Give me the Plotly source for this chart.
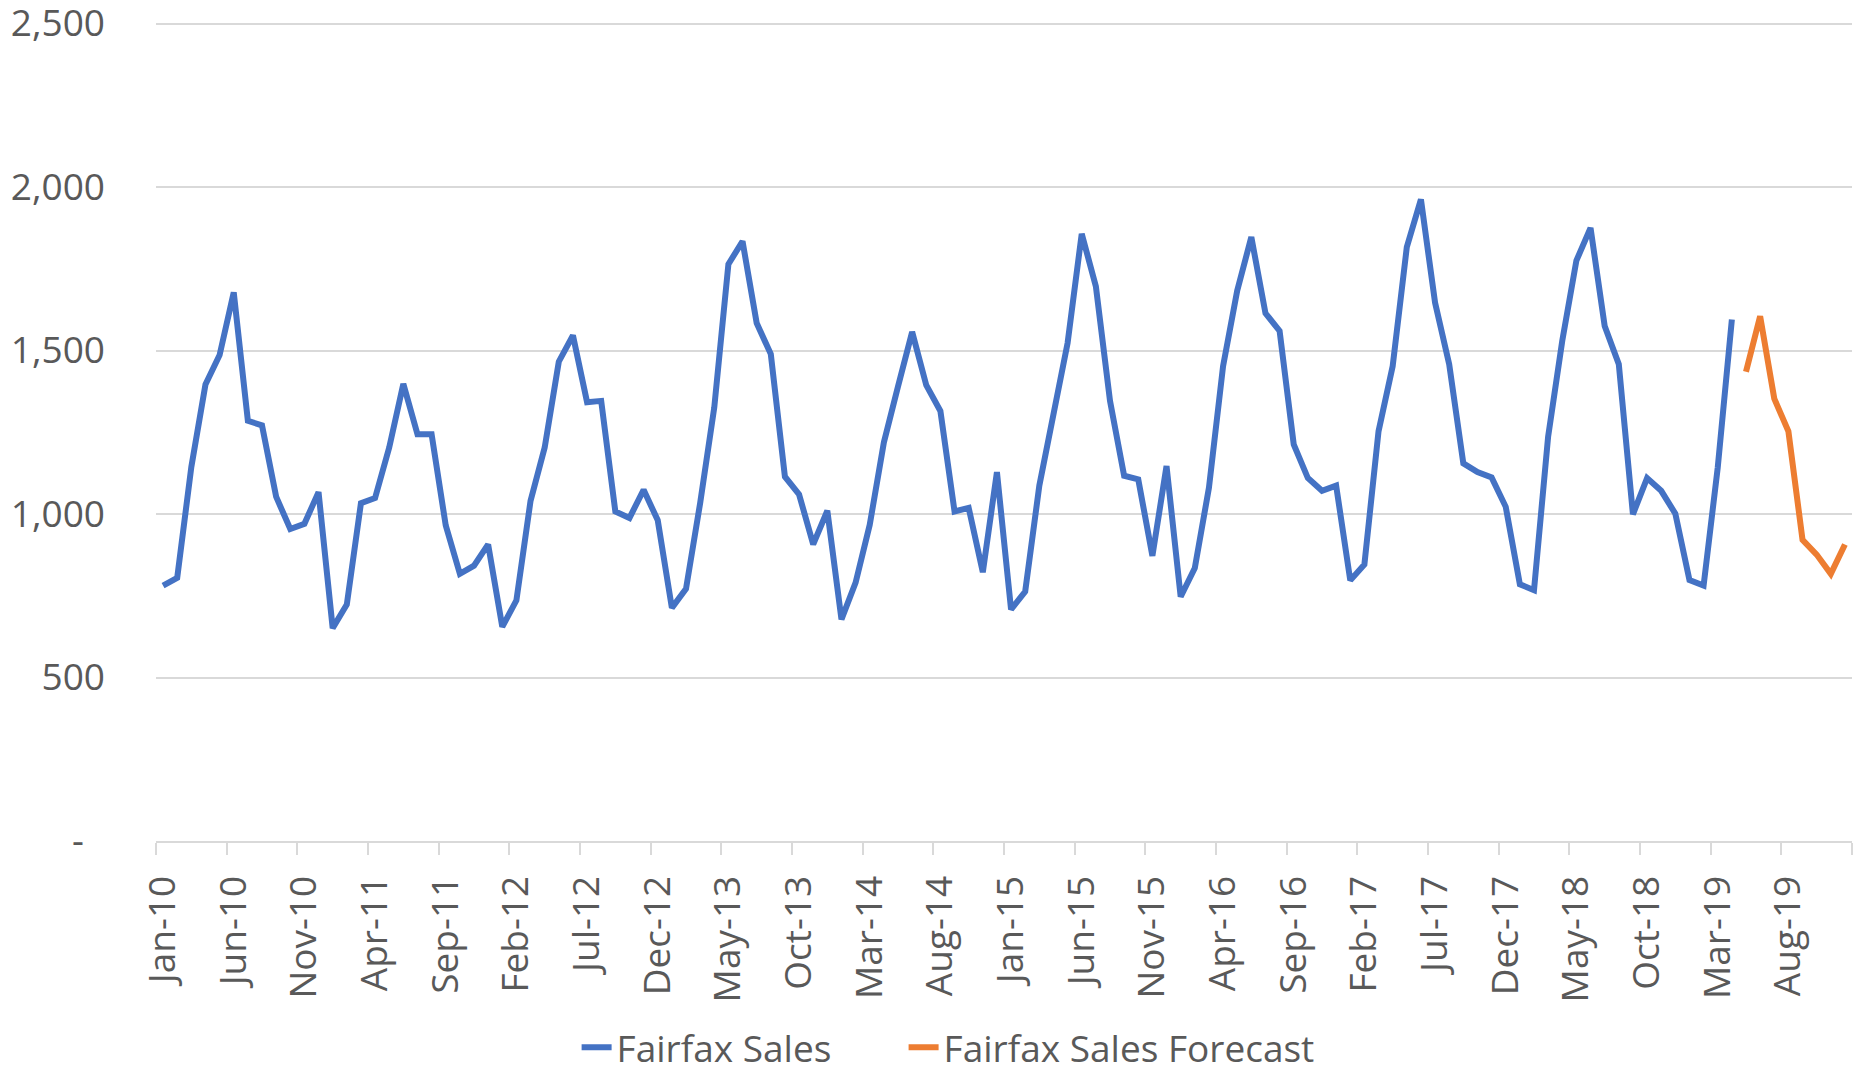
import plotly.graph_objects as go

# Categories: monthly labels Jan-10 .. Dec-19
MONTH_NAMES = ["Jan", "Feb", "Mar", "Apr", "May", "Jun", "Jul", "Aug", "Sep", "Oct", "Nov", "Dec"]
YEARS = ["10", "11", "12", "13", "14", "15", "16", "17", "18", "19"]
months = [f"{m}-{y}" for y in YEARS for m in MONTH_NAMES]

# Fairfax Sales (Jan-10 .. Apr-19)
sales = [
    781, 805, 1144, 1396, 1486, 1678, 1285, 1271, 1053, 954, 970, 1067,       # 2010
    651, 723, 1033, 1049, 1203, 1398, 1244, 1244, 965, 817, 842, 907,         # 2011
    655, 736, 1040, 1203, 1466, 1546, 1342, 1346, 1008, 988, 1074, 981,       # 2012
    713, 771, 1033, 1326, 1764, 1834, 1584, 1489, 1114, 1060, 907, 1010,      # 2013
    678, 790, 967, 1219, 1390, 1557, 1394, 1315, 1008, 1019, 822, 1128,       # 2014
    708, 763, 1087, 1312, 1523, 1857, 1696, 1346, 1117, 1106, 872, 1147,      # 2015
    747, 835, 1080, 1452, 1683, 1847, 1614, 1560, 1213, 1110, 1071, 1087,     # 2016
    797, 846, 1253, 1452, 1816, 1962, 1646, 1458, 1155, 1128, 1112, 1022,     # 2017
    785, 767, 1237, 1530, 1775, 1875, 1575, 1458, 999, 1110, 1071, 1001,      # 2018
    798, 781, 1142, 1595,                                                     # 2019 Jan-Apr
]
# Fairfax Sales Forecast (May-19 .. Dec-19)
forecast = [1435, 1605, 1353, 1253, 921, 876, 817, 907]

sales_x = months[:len(sales)]
forecast_x = months[len(sales):len(sales) + len(forecast)]

y_ticks = [0, 500, 1000, 1500, 2000, 2500]
y_ticktext = ["-\u2007", "500", "1,000", "1,500", "2,000", "2,500"]

FONT = "Open Sans"
TXT = "#595959"
GRID = "#D9D9D9"

fig = go.Figure()
fig.add_trace(go.Scatter(x=sales_x, y=sales, mode="lines",
                         name="Fairfax Sales" + "\u00a0" * 7,
                         line=dict(color="#4472C4", width=6)))
fig.add_trace(go.Scatter(x=forecast_x, y=forecast, mode="lines", name="Fairfax Sales Forecast",
                         line=dict(color="#ED7D31", width=6)))

fig.update_layout(
    width=1854, height=1066,
    margin=dict(l=148, r=10, t=9, b=233, autoexpand=False),
    paper_bgcolor="white", plot_bgcolor="white",
    font=dict(family=FONT, size=37, color=TXT),
    showlegend=True,
    legend=dict(orientation="h", x=0.248, xanchor="left", y=-0.251, yanchor="middle",
                font=dict(family=FONT, size=37, color=TXT), bgcolor="rgba(0,0,0,0)"),
)
fig.update_xaxes(
    type="category", categoryorder="array", categoryarray=months,
    range=[-0.5, len(months) - 0.5], automargin=False,
    tickmode="linear", tick0=0, dtick=5, tickson="boundaries",
    ticks="outside", ticklen=12, tickwidth=2, tickcolor=GRID,
    showline=True, linecolor=GRID, linewidth=2,
    showgrid=False, zeroline=False,
    tickangle=-90, ticklabelstandoff=18,
    tickfont=dict(family=FONT, size=37, color=TXT),
)
fig.update_yaxes(
    range=[0, 2520], automargin=False,
    tickmode="array", tickvals=y_ticks, ticktext=y_ticktext,
    showgrid=True, gridcolor=GRID, gridwidth=2,
    zeroline=False, showline=False, ticks="",
    ticklabelstandoff=50, ticklabeloverflow="allow",
    tickfont=dict(family=FONT, size=37, color=TXT),
)

fig.write_html("out.html")
